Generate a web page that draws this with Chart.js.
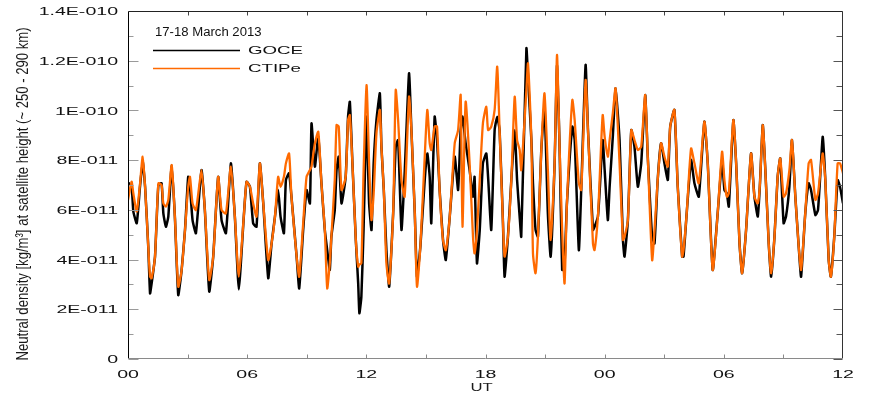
<!DOCTYPE html>
<html>
<head>
<meta charset="utf-8">
<title>GOCE vs CTIPe neutral density</title>
<script src="https://cdn.jsdelivr.net/npm/chart.js"></script>
<style>
  html, body { margin: 0; padding: 0; background: #fff; }
  #wrap { width: 871px; height: 400px; }
</style>
</head>
<body>
<div id="wrap"><canvas id="densityChart" width="871" height="400"></canvas></div>
<script>
// time since 00 UT on 17 March 2013, in hours
const hours = [
  0, 0.18, 0.27, 0.44, 0.60, 0.74, 0.86, 1.02, 1.11, 1.19, 1.36, 1.53, 1.69, 1.78, 1.91, 2.03, 2.20, 2.36, 2.53, 2.70, 2.87, 3.03, 3.12, 3.25, 3.42, 3.70, 3.87, 4.09, 4.29, 4.54, 4.71, 4.93, 5.18, 5.38, 5.58, 5.83,
  5.97, 6.14, 6.30, 6.47, 6.64, 6.81, 7.06, 7.23, 7.40, 7.56, 7.68, 7.85, 7.95, 8.11, 8.23, 8.49, 8.62, 8.82, 8.99, 9.16, 9.24, 9.41, 9.58, 9.74, 9.91, 10.03, 10.16, 10.24, 10.41, 10.50, 10.61, 10.75, 10.96, 11.08, 11.17, 11.30, 11.47, 11.59, 11.65, 11.75, 11.86,
  12.01, 12.14, 12.26, 12.37, 12.51, 12.68, 12.76, 12.88, 13.01, 13.15, 13.35, 13.48, 13.60, 13.77, 13.93, 14.15, 14.27, 14.44, 14.55, 14.72, 14.94, 15.07, 15.19, 15.27, 15.44, 15.56, 15.69, 15.86, 16.00, 16.20, 16.45, 16.62, 16.75, 16.84, 17.00, 17.20, 17.37, 17.45, 17.57, 17.71, 17.87,
  18.04, 18.13, 18.29, 18.46, 18.59, 18.71, 18.88, 18.96, 19.13, 19.30, 19.47, 19.59, 19.72, 19.80, 20.06, 20.14, 20.31, 20.39, 20.52, 20.64, 20.81, 20.97, 21.14, 21.28, 21.48, 21.60, 21.73, 21.86, 21.98, 22.10, 22.37, 22.49, 22.70, 22.82, 23.04, 23.16, 23.41, 23.49, 23.66, 23.76, 23.90,
  24.00, 24.16, 24.25, 24.41, 24.55, 24.75, 24.92, 25.00, 25.17, 25.34, 25.50, 25.67, 25.84, 26.04, 26.17, 26.39, 26.51, 26.67, 26.84, 27.01, 27.18, 27.30, 27.51, 27.68, 27.90, 27.97, 28.13, 28.35, 28.52, 28.74, 29.02, 29.19, 29.44, 29.69, 29.91,
  30.03, 30.15, 30.25, 30.48, 30.62, 30.79, 30.92, 31.12, 31.37, 31.54, 31.71, 31.82, 31.96, 32.09, 32.26, 32.38, 32.55, 32.71, 32.84, 33.01, 33.13, 33.30, 33.43, 33.60, 33.77, 33.89, 34.10, 34.27, 34.39, 34.61, 34.74, 34.89, 34.98, 35.11, 35.28, 35.39, 35.56, 35.73, 35.85, 36.00
];

// GOCE accelerometer density, in units of 1E-11 kg/m3
const goce = [
  7.10, 6.95, 5.93, 5.46, 6.90, 7.94, 6.93, 4.52, 2.64, 3.04, 4.12, 7.00, 7.07, 5.86, 5.32, 5.73, 7.80, 5.73, 2.57, 3.58, 5.19, 7.33, 6.93, 5.59, 5.06, 7.60, 5.99, 2.71, 4.12, 7.33, 5.59, 5.06, 7.87, 5.73, 2.80, 5.73,
  7.13, 6.93, 5.46, 5.32, 7.87, 6.26, 3.25, 4.65, 5.73, 6.80, 5.73, 5.06, 7.20, 7.47, 6.53, 4.12, 2.84, 5.19, 6.80, 6.26, 9.48, 7.74, 8.94, 7.07, 5.19, 4.38, 3.58, 4.92, 5.99, 7.60, 8.14, 6.26, 7.33, 9.75, 10.35, 7.87, 4.79, 3.04, 1.84, 2.51, 5.19,
  9.75, 6.26, 5.19, 7.87, 9.61, 10.69, 8.54, 6.80, 4.38, 2.91, 5.86, 8.54, 8.81, 5.19, 7.47, 11.49, 9.21, 5.86, 3.31, 4.52, 7.20, 8.27, 7.33, 5.46, 9.75, 8.81, 6.80, 4.79, 3.98, 5.73, 8.14, 6.80, 9.21, 9.75, 8.68, 7.60, 6.53, 7.33, 3.85, 5.19, 7.87,
  8.27, 7.33, 5.19, 9.21, 9.75, 9.21, 5.46, 3.31, 4.92, 7.20, 9.21, 7.20, 5.73, 4.92, 12.50, 11.36, 8.81, 7.07, 5.19, 4.92, 8.41, 10.15, 5.86, 4.12, 7.87, 11.80, 8.54, 3.58, 3.85, 6.26, 9.35, 8.81, 4.38, 6.80, 11.83, 9.21, 5.19, 5.32, 5.73, 6.93, 8.81,
  7.60, 5.59, 6.93, 8.94, 10.89, 8.81, 4.79, 4.12, 5.59, 9.21, 8.54, 6.93, 7.87, 10.62, 8.14, 4.92, 4.65, 7.20, 8.68, 7.87, 7.20, 9.35, 10.02, 6.93, 4.12, 4.12, 5.86, 8.01, 7.07, 6.53, 9.55, 7.87, 3.58, 5.86, 8.00,
  6.80, 6.66, 6.13, 9.61, 7.87, 4.65, 3.45, 5.19, 8.27, 6.53, 5.73, 7.07, 9.41, 7.60, 4.65, 3.31, 4.92, 7.33, 8.07, 5.46, 5.73, 6.93, 8.81, 6.53, 4.52, 3.31, 5.86, 7.07, 6.80, 5.79, 5.99, 7.87, 8.94, 7.20, 3.98, 3.31, 4.92, 7.20, 6.93, 6.26
];

// CTIPe model density along the GOCE orbit, in units of 1E-11 kg/m3
const ctipe = [
  6.40, 7.13, 6.66, 5.93, 7.00, 8.14, 6.93, 4.52, 3.31, 3.25, 4.12, 7.07, 7.00, 6.26, 6.13, 6.40, 7.80, 5.73, 2.91, 3.58, 5.19, 6.93, 7.33, 6.26, 5.99, 7.60, 5.99, 3.18, 4.12, 7.33, 5.99, 5.86, 7.74, 5.73, 3.30, 5.73,
  7.13, 6.93, 6.26, 5.73, 7.87, 6.26, 3.98, 4.65, 5.73, 7.33, 6.93, 7.33, 7.87, 8.27, 6.53, 4.12, 3.31, 5.46, 7.33, 7.60, 7.74, 8.68, 9.14, 7.07, 5.19, 2.84, 3.85, 4.92, 7.20, 9.41, 9.35, 6.80, 7.33, 9.61, 9.81, 7.87, 4.79, 3.71, 3.80, 3.85, 7.50,
  11.02, 7.87, 5.59, 6.66, 9.08, 10.02, 8.54, 6.80, 3.85, 3.04, 5.86, 10.82, 9.61, 7.20, 6.53, 10.55, 9.21, 5.86, 2.91, 4.52, 8.14, 10.02, 8.68, 8.41, 9.35, 9.35, 6.80, 4.79, 4.38, 5.73, 8.68, 9.21, 10.62, 5.32, 10.35, 7.87, 4.92, 4.25, 5.19, 7.20, 9.48,
  10.15, 9.21, 9.35, 10.02, 11.76, 9.21, 5.46, 4.12, 4.92, 7.20, 10.55, 8.81, 8.41, 7.60, 10.82, 11.89, 8.81, 4.25, 3.45, 4.92, 8.41, 10.69, 7.60, 4.79, 7.87, 12.23, 8.54, 5.19, 3.04, 6.26, 10.42, 9.61, 7.07, 6.80, 11.22, 9.21, 4.65, 4.38, 5.73, 7.47, 9.81,
  8.94, 8.14, 8.81, 9.88, 10.89, 7.87, 4.79, 4.92, 5.59, 9.21, 8.81, 8.41, 8.54, 10.62, 8.14, 3.98, 5.19, 7.20, 8.68, 8.14, 7.74, 9.35, 10.02, 6.93, 4.12, 4.38, 5.86, 8.47, 7.87, 7.07, 9.55, 7.87, 3.58, 5.86, 8.34,
  7.20, 6.53, 6.66, 9.61, 7.87, 4.65, 3.45, 5.19, 8.27, 6.53, 6.26, 7.07, 9.41, 7.60, 4.65, 3.45, 4.92, 7.33, 8.07, 6.53, 6.66, 7.60, 8.81, 6.53, 4.52, 3.58, 5.86, 7.87, 8.01, 6.40, 6.66, 7.74, 8.27, 7.20, 3.98, 3.31, 4.92, 7.87, 7.87, 7.47
];

const UNIT = 1e-11;

const xTickHours = [0, 6, 12, 18, 24, 30, 36];
const xTickLabels = ["00", "06", "12", "18", "00", "06", "12"];
const yTickLabels = ["0", "2E-011", "4E-011", "6E-011", "8E-011", "1E-010", "1.2E-010", "1.4E-010"];

const seriesNames = ["GOCE", "CTIPe"];
const legendTitle = "17-18 March 2013";
const xTitle = "UT";
const yTitle = "Neutral density [kg/m\u00b3] at satellite height (~ 250 - 290 km)";

const FONT = '"Liberation Sans", Arial, sans-serif';
const BLACK = "#000000";
const ORANGE = "#ff6a00";

const toPoints = (values) => hours.map((h, i) => ({ x: h, y: values[i] * UNIT }));

// text in this figure is wide and flat, so draw it with a horizontal stretch
const stretchText = (ctx, text, x, y, sx, align) => {
  ctx.save();
  ctx.translate(x, y);
  ctx.scale(sx, 1);
  ctx.textAlign = align;
  ctx.textBaseline = "middle";
  ctx.fillText(text, 0, 0);
  ctx.restore();
};

const hLine = (ctx, x1, x2, y, color, width) => {
  ctx.strokeStyle = color;
  ctx.lineWidth = width;
  ctx.beginPath();
  ctx.moveTo(x1, y);
  ctx.lineTo(x2, y);
  ctx.stroke();
};

const vLine = (ctx, x, y1, y2, color, width) => {
  ctx.strokeStyle = color;
  ctx.lineWidth = width;
  ctx.beginPath();
  ctx.moveTo(x, y1);
  ctx.lineTo(x, y2);
  ctx.stroke();
};

const framePlugin = {
  id: "frame",
  afterDraw: (chart) => {
    const { ctx, chartArea: a, scales } = chart;
    const xs = scales.x;
    const ys = scales.y;
    const L = Math.round(a.left) + 0.5;
    const R = Math.round(a.right) - 0.5;
    const T = Math.round(a.top) + 0.5;
    const B = Math.round(a.bottom) - 0.5;
    ctx.save();

    // inward y ticks every 1E-11, longer on labelled values
    for (let k = 0; k <= 14; k++) {
      const py = Math.round(ys.getPixelForValue(k * UNIT)) + 0.5;
      const major = k % 2 === 0;
      hLine(ctx, L, L + (major ? 10 : 5), py, "#9a9a9a", 1);
      hLine(ctx, R, R - (major ? 9 : 6), py, "#555555", 1);
    }

    // inward x ticks every 3 hours
    for (let h = 3; h < 36; h += 3) {
      const px = Math.round(xs.getPixelForValue(h)) + 0.5;
      vLine(ctx, px, B, B - 4, "#8a8a8a", 1);
      vLine(ctx, px, T, T + 4, "#444444", 1);
    }

    // axis box
    vLine(ctx, L, T, B, "#000000", 1);
    hLine(ctx, L, R, T, "#222222", 1);
    vLine(ctx, R, T, B, "#333333", 1);
    hLine(ctx, L, R, B, "#8a8a8a", 1);

    // tick labels
    ctx.fillStyle = "#111111";
    ctx.font = "11.5px " + FONT;
    yTickLabels.forEach((t, i) => {
      stretchText(ctx, t, a.left - 10, ys.getPixelForValue(i * 2 * UNIT) + 1, 1.7, "right");
    });
    xTickLabels.forEach((t, i) => {
      stretchText(ctx, t, xs.getPixelForValue(xTickHours[i]), a.bottom + 16, 1.7, "center");
    });

    // axis titles
    ctx.fillStyle = "#1a1a1a";
    ctx.font = "11.5px " + FONT;
    stretchText(ctx, xTitle, xs.getPixelForValue(17.8), a.bottom + 29, 1.45, "center");

    ctx.font = "17px " + FONT;
    const yLen = 333;
    const natural = ctx.measureText(yTitle).width;
    ctx.save();
    ctx.translate(23, (a.top + a.bottom) / 2 + 9);
    ctx.rotate(-Math.PI / 2);
    stretchText(ctx, yTitle, 0, 0, yLen / natural, "center");
    ctx.restore();

    // legend inside the plot
    const lx = a.left + 25;
    ctx.fillStyle = "#111111";
    ctx.font = "12.5px " + FONT;
    stretchText(ctx, legendTitle, lx + 2, a.top + 22, 1.05, "left");
    ctx.font = "11px " + FONT;
    const colors = [BLACK, ORANGE];
    seriesNames.forEach((name, i) => {
      const ly = a.top + 39.5 + i * 18;
      hLine(ctx, lx, lx + 87, ly, colors[i], 1.5);
      stretchText(ctx, name, lx + 95, ly, 1.7, "left");
    });

    ctx.restore();
  },
};

new Chart(document.getElementById("densityChart"), {
  type: "line",
  data: {
    datasets: [
      {
        label: seriesNames[0],
        data: toPoints(goce),
        borderColor: BLACK,
        borderWidth: 2.5,
        pointRadius: 0,
        tension: 0.15,
        order: 2,
      },
      {
        label: seriesNames[1],
        data: toPoints(ctipe),
        borderColor: ORANGE,
        borderWidth: 2.3,
        pointRadius: 0,
        tension: 0.2,
        order: 1,
      },
    ],
  },
  options: {
    responsive: false,
    animation: false,
    devicePixelRatio: 1,
    layout: {
      padding: { left: 128, right: 28, top: 11, bottom: 41 },
    },
    scales: {
      x: { type: "linear", min: 0, max: 36, display: false },
      y: { min: 0, max: 14 * UNIT, display: false },
    },
    plugins: {
      legend: { display: false },
      tooltip: { enabled: false },
    },
  },
  plugins: [framePlugin],
});
</script>
</body>
</html>
